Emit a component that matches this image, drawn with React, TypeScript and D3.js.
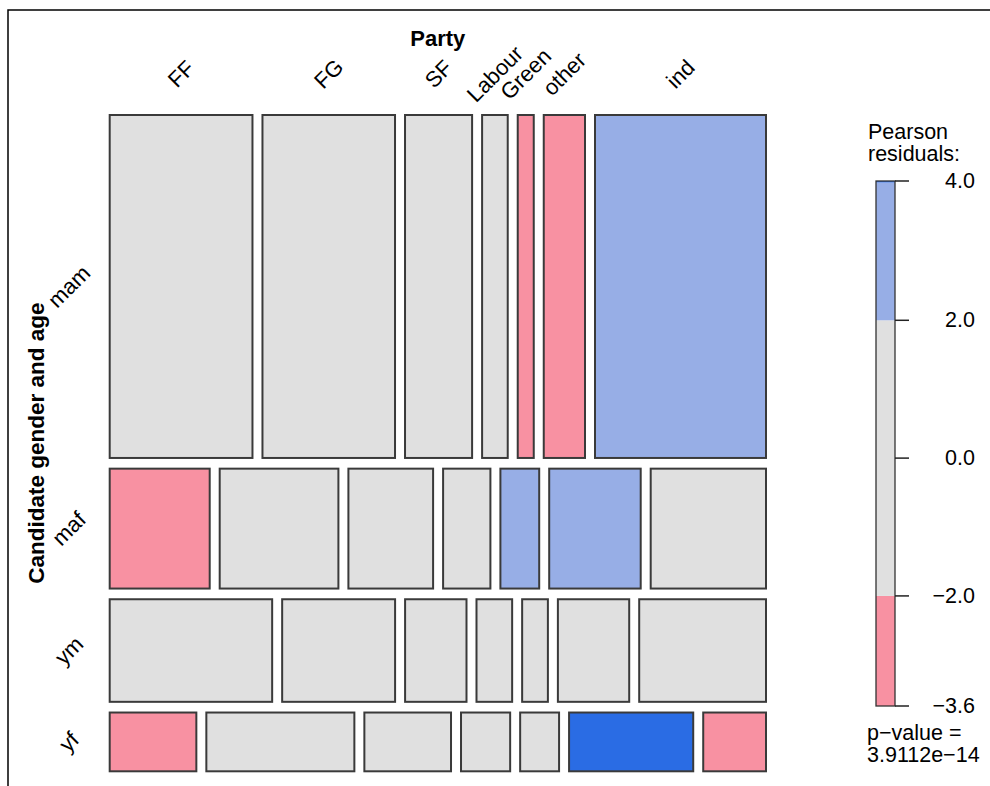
import React from "react";
import * as d3 from "d3";

const rowLabels = ["mam", "maf", "ym", "yf"];
const parties = ["FF", "FG", "SF", "Labour", "Green", "other", "ind"];
const mam = [241, 224, 115, 46, 30, 72, 288];
const maf = [60, 71, 51, 29, 24, 55, 69];
const ym = [83, 58, 32, 19, 14, 37, 65];
const yf = [26, 44, 26, 15, 12, 37, 19];
const pValueText = ["p\u2212value =", "3.9112e\u221214"];
const xTitle = "Party";
const yTitle = "Candidate gender and age";

const counts = [mam, maf, ym, yf];

const FONT = "'Liberation Sans', Arial, Helvetica, sans-serif";

const colPos = "#2a6ce4";
const colPosLight = "#97aee6";
const colNeutral = "#e0e0e0";
const colNegLight = "#f891a2";
const colNeg = "#f02e55";

function shade(r: number) {
  if (r >= 4) return colPos;
  if (r >= 2) return colPosLight;
  if (r <= -4) return colNeg;
  if (r <= -2) return colNegLight;
  return colNeutral;
}

export default function App() {
  const W = 990, H = 786;
  const L = 108.7, R = 767, T = 114, B = 772.3;
  const HG = 8, VG = 8.7;

  const rowTot = counts.map((r) => d3.sum(r));
  const colTot = parties.map((_, j) => d3.sum(counts, (r) => r[j]));
  const N = d3.sum(rowTot);
  const resid = counts.map((r, i) =>
    r.map((o, j) => {
      const e = (rowTot[i] * colTot[j]) / N;
      return (o - e) / Math.sqrt(e);
    })
  );
  const rMin = d3.min(resid.flat()) as number;
  const rMax = d3.max(resid.flat()) as number;

  const availH = B - T - VG * (rowLabels.length - 1);
  const hScale = d3.scaleLinear().domain([0, N]).range([0, availH]);
  const rowY: number[] = [];
  let yy = T;
  rowTot.forEach((t) => {
    rowY.push(yy);
    yy += hScale(t) + VG;
  });

  const availW = R - L - HG * (parties.length - 1);

  const cells: any[] = [];
  const topCenters: number[] = [];
  counts.forEach((row, i) => {
    const wScale = d3.scaleLinear().domain([0, rowTot[i]]).range([0, availW]);
    let xx = L;
    row.forEach((v, j) => {
      const w = wScale(v);
      const h = hScale(rowTot[i]);
      cells.push({ x: xx, y: rowY[i], w, h, fill: shade(resid[i][j]), key: `${i}-${j}` });
      if (i === 0) topCenters.push(xx + w / 2);
      xx += w + HG;
    });
  });

  // legend
  const lgX0 = 876, lgX1 = 895;
  const lgTop = 181, lgBot = 706;
  const ly = d3.scaleLinear().domain([rMin, rMax]).range([lgBot, lgTop]);
  const segs = [
    { a: rMin, b: -2, c: colNegLight },
    { a: -2, b: 2, c: colNeutral },
    { a: 2, b: 4, c: colPosLight },
    { a: 4, b: rMax, c: colPos },
  ].filter((s) => s.b > s.a);
  const fmt = d3.format(".1f");
  const ticks = [rMax, 2, 0, -2, rMin];

  const fs = 22;
  const lfs = 21.5;

  return (
    <svg
      width={W}
      height={H}
      viewBox={`0 0 ${W} ${H}`}
      style={{ position: "absolute", left: 0, top: 0, background: "#fff" }}
      fontFamily={FONT}
    >
      <rect x={0} y={0} width={W} height={H} fill="#fff" />
      {/* outer frame */}
      <path d={`M8,${H + 5} L8,10 L${W + 5},10`} fill="none" stroke="#000" strokeWidth={1.5} />

      {/* titles */}
      <text x={(L + R) / 2} y={46} textAnchor="middle" fontSize={fs} fontWeight="bold">
        {xTitle}
      </text>
      <text
        transform={`translate(36,${(T + B) / 2}) rotate(-90)`}
        textAnchor="middle"
        dominantBaseline="central"
        fontSize={22.5}
        fontWeight="bold"
      >
        {yTitle}
      </text>

      {/* column labels */}
      {parties.map((p, j) => (
        <text
          key={p}
          transform={`translate(${topCenters[j]},74) rotate(-45)`}
          textAnchor="middle"
          dominantBaseline="central"
          fontSize={fs}
        >
          {p}
        </text>
      ))}

      {/* row labels */}
      {rowLabels.map((r, i) => (
        <text
          key={r}
          transform={`translate(69,${rowY[i] + hScale(rowTot[i]) / 2}) rotate(-45)`}
          textAnchor="middle"
          dominantBaseline="central"
          fontSize={fs}
        >
          {r}
        </text>
      ))}

      {/* cells */}
      {cells.map((c) => (
        <rect
          key={c.key}
          x={c.x + 1}
          y={c.y + 1}
          width={c.w - 2}
          height={c.h - 2}
          fill={c.fill}
          stroke="#3a3a3a"
          strokeWidth={2}
        />
      ))}

      {/* legend */}
      <text x={868} y={139} fontSize={lfs}>Pearson</text>
      <text x={868} y={161} fontSize={lfs}>residuals:</text>
      {segs.map((s, k) => (
        <rect
          key={k}
          x={lgX0}
          y={ly(s.b)}
          width={lgX1 - lgX0}
          height={ly(s.a) - ly(s.b)}
          fill={s.c}
        />
      ))}
      <rect
        x={lgX0}
        y={lgTop}
        width={lgX1 - lgX0}
        height={lgBot - lgTop}
        fill="none"
        stroke="#333"
        strokeWidth={1.3}
      />
      {ticks.map((t, k) => (
        <g key={k}>
          <line x1={lgX1} x2={909} y1={ly(t)} y2={ly(t)} stroke="#222" strokeWidth={1.5} />
          <text x={975} y={ly(t)} textAnchor="end" dominantBaseline="central" fontSize={lfs}>
            {fmt(t)}
          </text>
        </g>
      ))}
      <text x={867} y={740} fontSize={lfs}>{pValueText[0]}</text>
      <text x={867} y={762} fontSize={lfs}>{pValueText[1]}</text>
    </svg>
  );
}
